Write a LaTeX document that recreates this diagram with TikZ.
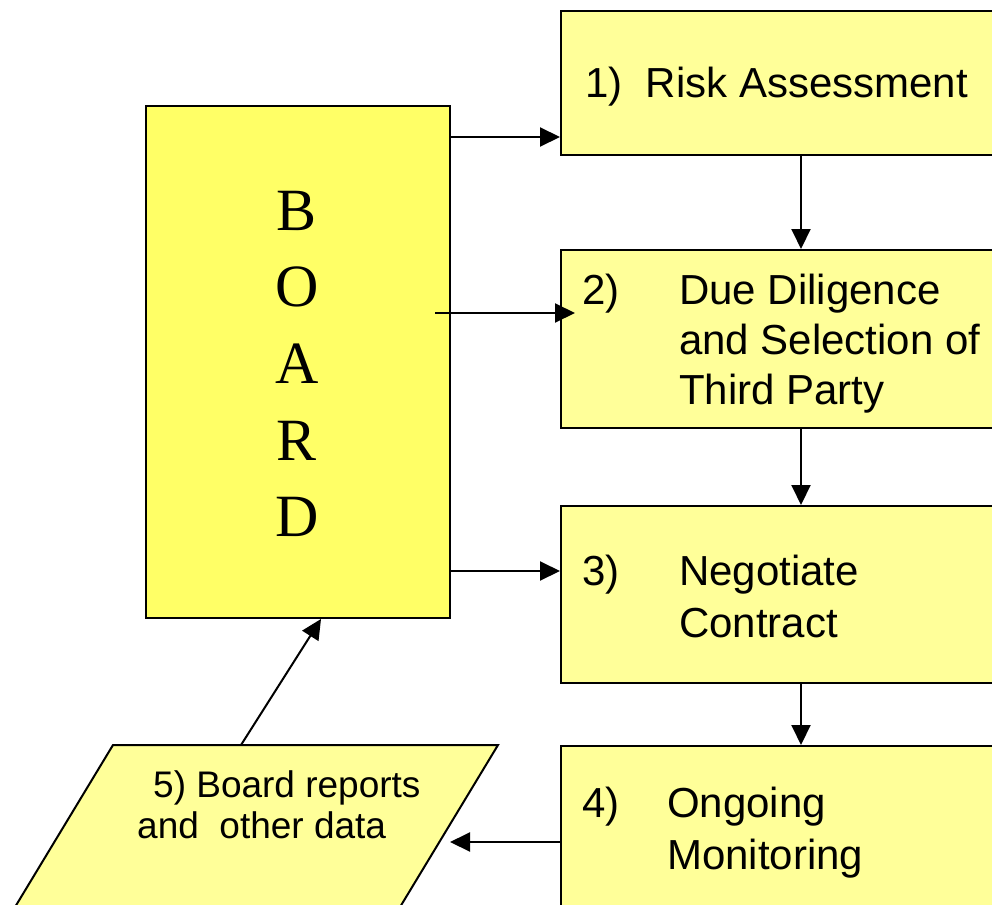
\documentclass[tikz,border=0pt]{standalone}
\usepackage{fontspec}
\setmainfont{Liberation Sans}
\newfontfamily\serifboard{Liberation Serif}
\usetikzlibrary{arrows.meta,calc}
\definecolor{boxfill}{RGB}{255,255,153}
\definecolor{boardfill}{RGB}{255,255,102}
\tikzset{
  procbox/.style={draw=black, line width=2pt, fill=boxfill, rectangle, anchor=north west, inner sep=0pt},
  boardbox/.style={draw=black, line width=2pt, fill=boardfill, rectangle, anchor=north west, inner sep=0pt},
  arr/.style={line width=2pt, -{Triangle[length=20pt,width=19pt]}},
  txt/.style={anchor=base west, inner sep=0pt, font=\fontsize{42}{50}\selectfont},
  smalltxt/.style={anchor=base west, inner sep=0pt, font=\fontsize{37}{43}\selectfont},
}
\begin{document}
\begin{tikzpicture}[x=1pt,y=-1pt]
\useasboundingbox (0,0) rectangle (992,904);
\clip (0,0) rectangle (992,904);
\fill[white] (0,0) rectangle (992,904);

% board
\node[boardbox, minimum width=304pt, minimum height=512pt] (board) at (145,105) {};
\node[inner sep=0pt, align=center, font=\serifboard\fontsize{60}{76.7}\selectfont] (boardtxt) at (297,364) {B\\O\\A\\R\\D};

% process boxes
\node[procbox, minimum width=460pt, minimum height=144pt] (b1) at (560,10) {};
\node[procbox, minimum width=460pt, minimum height=178pt] (b2) at (560,249) {};
\node[procbox, minimum width=460pt, minimum height=177pt] (b3) at (560,505) {};
\node[procbox, minimum width=460pt, minimum height=200pt] (b4) at (560,745) {};

% parallelogram
\coordinate (ptl) at (113,745);
\coordinate (ptr) at (498,745);
\draw[line width=2pt, fill=boxfill] (ptl) -- (ptr) -- (368,960) -- (-17,960) -- cycle;
\coordinate (ptop) at (241,745);
\coordinate (pright) at (450,842);

% texts
\node[txt] (t1) at (585,98) {1)\ \ Risk Assessment};
\node[txt] (t2n) at (582,304) {2)};
\node[txt] (t2a) at (679,304) {Due Diligence};
\node[txt] (t2b) at (679,354) {and Selection of};
\node[txt] (t2c) at (679,404) {Third Party};
\node[txt] (t3n) at (582,585) {3)};
\node[txt] (t3a) at (679,585) {Negotiate};
\node[txt] (t3b) at (679,637) {Contract};
\node[txt] (t4n) at (582,817) {4)};
\node[txt] (t4a) at (667,817) {Ongoing};
\node[txt] (t4b) at (667,869) {Monitoring};
\node[smalltxt] (t5a) at (153,797) {5) Board reports};
\node[smalltxt] (t5b) at (137,838) {and\ \ other data};

% connectors: board to boxes
\draw[arr] ($(board.north east)+(0,32)$) -- ($(b1.north west)+(0,127)$);
\draw[arr] ($(board.north east)+(-16,208)$) -- ($(b2.north west)+(15,64)$);
\draw[arr] ($(board.north east)+(0,466)$) -- ($(b3.north west)+(0,66)$);

% vertical chain
\draw[arr] ($(b1.south west)+(241,0)$) -- ($(b2.north west)+(241,0)$);
\draw[arr] ($(b2.south west)+(241,0)$) -- ($(b3.north west)+(241,0)$);
\draw[arr] ($(b3.south west)+(241,0)$) -- ($(b4.north west)+(241,0)$);

% monitoring to reports, reports to board
\draw[arr] ($(b4.north west)+(0,97)$) -- (pright);
\draw[arr] (ptop) -- ($(board.south west)+(176,0)$);
\end{tikzpicture}
\end{document}
